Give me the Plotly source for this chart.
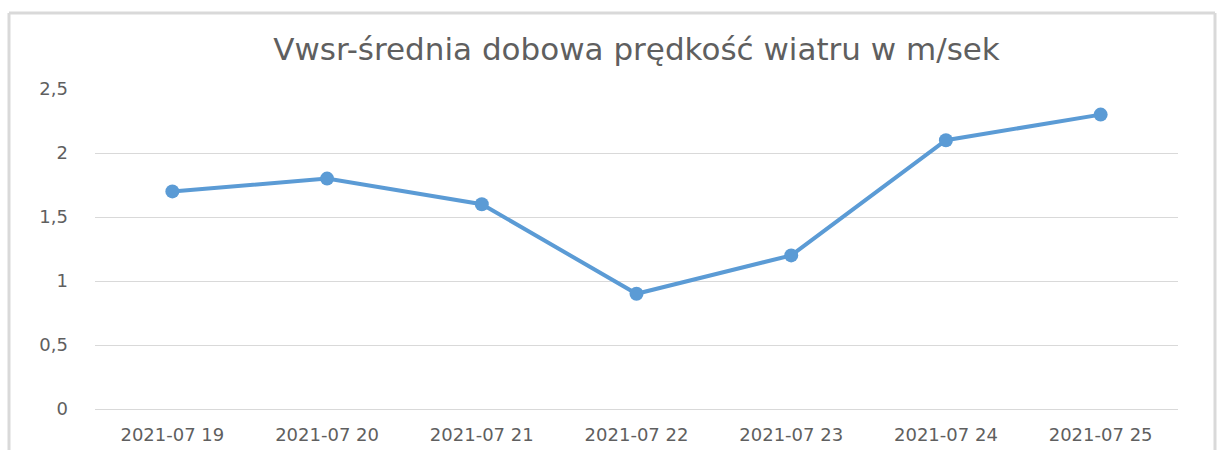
import plotly.graph_objects as go

dates = ["2021-07 19", "2021-07 20", "2021-07 21", "2021-07 22", "2021-07 23", "2021-07 24", "2021-07 25"]
values = [1.7, 1.8, 1.6, 0.9, 1.2, 2.1, 2.3]
title_text = "Vwsr-średnia dobowa prędkość wiatru w m/sek"

W, H = 1220, 450
ml, mr, mt, mb = 95, 42, 89, 41
pw, ph = W - ml - mr, H - mt - mb

def px2x(p):
    return (p - ml) / pw

def py2y(p):
    return 1 - (p - mt) / ph

FONT = "DejaVu Sans"
TXT = "#5f5f5f"

fig = go.Figure()
fig.add_trace(go.Scatter(
    x=dates, y=values, mode="lines+markers",
    line=dict(color="#5B9BD5", width=4),
    marker=dict(color="#5B9BD5", size=14),
    showlegend=False,
))

border = dict(type="line", xref="paper", yref="paper", line=dict(color="#d9d9d9", width=3), layer="above")
fig.add_shape(**border, x0=px2x(9), x1=px2x(9), y0=py2y(13), y1=py2y(460))
fig.add_shape(**border, x0=px2x(9), x1=px2x(1215), y0=py2y(13), y1=py2y(13))
fig.add_shape(**border, x0=px2x(1215), x1=px2x(1215), y0=py2y(13), y1=py2y(460))

fig.update_layout(
    width=W, height=H,
    margin=dict(l=ml, r=mr, t=mt, b=mb),
    paper_bgcolor="white", plot_bgcolor="white",
    separators=", ",
    title=dict(text=title_text, x=0.5, xref="paper", y=1 - 49 / H, yref="container", yanchor="middle",
               font=dict(family=FONT, size=31, color=TXT)),
    font=dict(family=FONT, color=TXT),
    xaxis=dict(type="category", showgrid=False, showline=False, ticks="", automargin=False,
               tickfont=dict(size=18, color=TXT), range=[-0.5, 6.5], ticklabelstandoff=13),
    yaxis=dict(range=[0, 2.5], dtick=0.5, showgrid=True, gridcolor="#d9d9d9", gridwidth=1,
               zeroline=True, zerolinecolor="#d9d9d9", zerolinewidth=1, showline=False, automargin=False,
               tickfont=dict(size=18, color=TXT), ticklabelstandoff=26),
)

fig.write_html("out.html", config={"displayModeBar": False},
               post_script="document.body.style.margin='0';")
